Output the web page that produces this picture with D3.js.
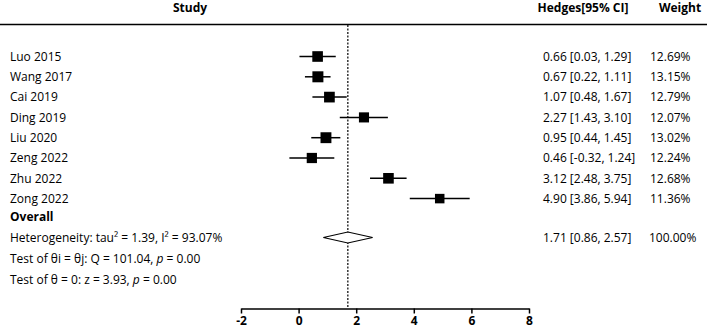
<!DOCTYPE html>
<html>
<head>
<meta charset="utf-8">
<script src="https://cdn.jsdelivr.net/npm/d3@7"></script>
<style>
  body { margin: 0; background: #fff; }
  svg { font-family: "Open Sans", "Noto Sans", sans-serif; }
</style>
</head>
<body>
<div id="chart"></div>
<script>
const studies = ['Luo 2015', 'Wang 2017', 'Cai 2019', 'Ding 2019', 'Liu 2020', 'Zeng 2022', 'Zhu 2022', 'Zong 2022'];
const effects = [0.66, 0.67, 1.07, 2.27, 0.95, 0.46, 3.12, 4.90];
const lower = [0.03, 0.22, 0.48, 1.43, 0.44, -0.32, 2.48, 3.86];
const upper = [1.29, 1.11, 1.67, 3.10, 1.45, 1.24, 3.75, 5.94];
const weights = [12.69, 13.15, 12.79, 12.07, 13.02, 12.24, 12.68, 11.36];
const overall = { est: 1.71, lo: 0.86, hi: 2.57, weight: 100.00 };
const statLines = [
  ['Heterogeneity: tau\u00b2 = 1.39, I\u00b2 = 93.07%'],
  ['Test of \u03b8i = \u03b8j: Q = 101.04, ', 'p', ' = 0.00'],
  ['Test of \u03b8 = 0: z = 3.93, ', 'p', ' = 0.00']
];
const ticks = [-2, 0, 2, 4, 6, 8];

const W = 707, H = 329;
const fs = 12;
const bodyWeight = 500;
const svg = d3.select('#chart').append('svg').attr('width', W).attr('height', H);

const x = d3.scaleLinear().domain([-2, 8]).range([241, 529]);
const rowY = d3.scaleLinear().domain([0, 1]).range([56.5, 76.8]);
const sz = d3.scaleLinear().domain([11.36, 13.15]).range([9.5, 11]);
const fmt = d3.format('.2f');
const num = v => fmt(v).replace('\u2212', '-');

// headers
svg.append('text').attr('x', 190).attr('y', 12).attr('text-anchor', 'middle')
  .attr('font-weight', 'bold').attr('font-size', fs).text('Study');
svg.append('text').attr('x', 583).attr('y', 12).attr('text-anchor', 'middle')
  .attr('font-weight', 'bold').attr('font-size', fs).text('Hedges[95% CI]');
svg.append('text').attr('x', 680).attr('y', 12).attr('text-anchor', 'middle')
  .attr('font-weight', 'bold').attr('font-size', fs).text('Weight');
svg.append('line').attr('x1', 0).attr('x2', W).attr('y1', 24.5).attr('y2', 24.5)
  .attr('stroke', '#000').attr('stroke-width', 1.5);

// reference line at overall estimate
svg.append('line').attr('x1', x(overall.est)).attr('x2', x(overall.est))
  .attr('y1', 25).attr('y2', 308).attr('stroke', '#000').attr('stroke-width', 1.2)
  .attr('stroke-dasharray', '2,1.5');

const rows = svg.selectAll('g.row').data(studies).enter().append('g').attr('class', 'row')
  .attr('transform', (d, i) => `translate(0,${rowY(i)})`);
rows.append('text').attr('x', 10).attr('dy', '0.35em').attr('font-size', fs)
  .attr('font-weight', bodyWeight).text(d => d);
rows.append('line').attr('x1', (d, i) => x(lower[i])).attr('x2', (d, i) => x(upper[i]))
  .attr('stroke', '#000').attr('stroke-width', 1.5);
rows.append('rect')
  .attr('x', (d, i) => x(effects[i]) - sz(weights[i]) / 2)
  .attr('y', (d, i) => -sz(weights[i]) / 2)
  .attr('width', (d, i) => sz(weights[i])).attr('height', (d, i) => sz(weights[i]))
  .attr('fill', '#000');
rows.append('text').attr('x', 543).attr('dy', '0.35em').attr('font-size', fs)
  .attr('font-weight', bodyWeight)
  .text((d, i) => `${num(effects[i])} [${num(lower[i])}, ${num(upper[i])}]`);
rows.append('text').attr('x', 650).attr('dy', '0.35em').attr('font-size', fs)
  .attr('font-weight', bodyWeight)
  .text((d, i) => `${num(weights[i])}%`);

// overall
svg.append('text').attr('x', 10).attr('y', 217).attr('dy', '0.35em').attr('font-size', fs)
  .attr('font-weight', 'bold').text('Overall');
const dy = 237.5, dh = 5.5;
svg.append('path')
  .attr('d', `M${x(overall.lo)},${dy}L${x(overall.est)},${dy - dh}L${x(overall.hi)},${dy}L${x(overall.est)},${dy + dh}Z`)
  .attr('fill', '#fff').attr('stroke', '#000').attr('stroke-width', 1.2);
svg.append('text').attr('x', 543).attr('y', dy).attr('dy', '0.35em').attr('font-size', fs)
  .attr('font-weight', bodyWeight)
  .text(`${num(overall.est)} [${num(overall.lo)}, ${num(overall.hi)}]`);
svg.append('text').attr('x', 649).attr('y', dy).attr('dy', '0.35em').attr('font-size', fs)
  .attr('font-weight', bodyWeight)
  .text(`${num(overall.weight)}%`);

statLines.forEach((parts, k) => {
  const t = svg.append('text').attr('x', 10).attr('y', dy + k * 21).attr('dy', '0.35em')
    .attr('font-size', fs).attr('font-weight', bodyWeight);
  parts.forEach((p, j) => t.append('tspan').attr('font-style', j === 1 ? 'italic' : null).text(p));
});

// axis
const axis = svg.append('g').attr('transform', 'translate(0,308.5)')
  .call(d3.axisBottom(x).tickValues(ticks).tickSize(5).tickSizeOuter(0).tickFormat(d => String(d)));
axis.select('.domain').attr('stroke-width', 1.5);
axis.selectAll('.tick line').attr('stroke-width', 1.5);
axis.selectAll('.tick text').attr('font-size', fs).attr('font-family', '"Open Sans", sans-serif')
  .attr('font-weight', 'bold').attr('y', 8);
</script>
</body>
</html>
